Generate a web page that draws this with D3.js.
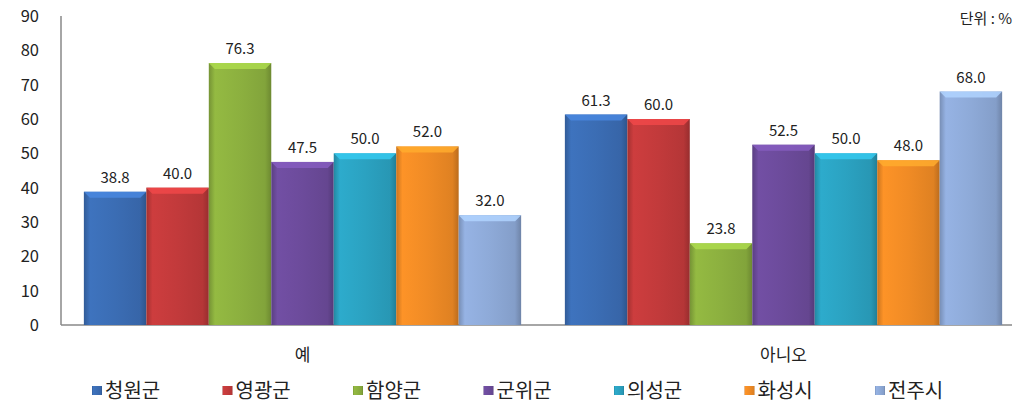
<!DOCTYPE html>
<html>
<head>
<meta charset="utf-8">
<script src="https://cdn.jsdelivr.net/npm/d3@7"></script>
<style>
  body { margin: 0; background: #fff; }
  text { font-family: "Noto Sans CJK KR", "Noto Sans", sans-serif; }
</style>
</head>
<body>
<div id="chart"></div>
<script>
// data
const groups = ["예", "아니오"];
const regions = ["청원군", "영광군", "함양군", "군위군", "의성군", "화성시", "전주시"];
const yesValues = [38.8, 40.0, 76.3, 47.5, 50.0, 52.0, 32.0];
const noValues = [61.3, 60.0, 23.8, 52.5, 50.0, 48.0, 68.0];
const yTicks = [0, 10, 20, 30, 40, 50, 60, 70, 80, 90];
const colors = ["#3b6db4", "#c23a3b", "#8cb03f", "#6c4b9b", "#2ba2c1", "#f08b25", "#8eaad8"];

const width = 1024, height = 410;
const margin = { top: 16, left: 62, right: 0, bottom: 85 };
const baseY = height - margin.bottom;

const svg = d3.select("#chart").append("svg")
  .attr("width", width)
  .attr("height", height);

const defs = svg.append("defs");
colors.forEach((c, i) => {
  const g = defs.append("linearGradient")
    .attr("id", "grad" + i)
    .attr("x1", "0%").attr("x2", "100%").attr("y1", "0%").attr("y2", "0%");
  g.append("stop").attr("offset", "0%").attr("stop-color", d3.color(c).darker(0.5));
  g.append("stop").attr("offset", "10%").attr("stop-color", d3.color(c).brighter(0.15));
  g.append("stop").attr("offset", "50%").attr("stop-color", c);
  g.append("stop").attr("offset", "90%").attr("stop-color", d3.color(c).darker(0.2));
  g.append("stop").attr("offset", "100%").attr("stop-color", d3.color(c).darker(0.7));
});

const x0 = d3.scaleBand()
  .domain(groups)
  .range([margin.left, width - margin.right])
  .paddingInner(0)
  .paddingOuter(0);

const x1 = d3.scaleBand()
  .domain(regions)
  .range([0, x0.bandwidth()])
  .paddingOuter(0.35)
  .paddingInner(0);

const y = d3.scaleLinear()
  .domain([0, 90])
  .range([baseY, margin.top]);

// y axis labels
svg.append("g")
  .selectAll("text")
  .data(yTicks)
  .join("text")
  .attr("x", 39)
  .attr("y", d => y(d) + 6)
  .attr("text-anchor", "end")
  .attr("font-size", 16.5)
  .attr("fill", "#222")
  .text(d => d);

// axis lines
svg.append("line")
  .attr("x1", margin.left - 1).attr("x2", margin.left - 1)
  .attr("y1", margin.top).attr("y2", baseY)
  .attr("stroke", "#888").attr("stroke-width", 1.5);

svg.append("line")
  .attr("x1", margin.left - 1).attr("x2", 1012)
  .attr("y1", baseY).attr("y2", baseY)
  .attr("stroke", "#888").attr("stroke-width", 1.5);

const rows = [yesValues, noValues];

groups.forEach((gName, gi) => {
  const g = svg.append("g").attr("transform", `translate(${x0(gName)},0)`);
  const data = regions.map((r, i) => ({ region: r, value: rows[gi][i], i }));

  const bars = g.selectAll("g.bar")
    .data(data)
    .join("g")
    .attr("class", "bar");

  bars.append("rect")
    .attr("x", d => x1(d.region))
    .attr("y", d => y(d.value))
    .attr("width", x1.bandwidth())
    .attr("height", d => baseY - y(d.value))
    .attr("fill", d => `url(#grad${d.i})`);

  // top bevel
  bars.append("path")
    .attr("d", d => {
      const xl = x1(d.region), xr = xl + x1.bandwidth(), yt = y(d.value);
      return `M${xl},${yt} L${xr},${yt} L${xr - 6},${yt + 6} L${xl + 6},${yt + 6} Z`;
    })
    .attr("fill", d => d3.color(colors[d.i]).brighter(0.6))
    .attr("opacity", 0.85);

  bars.append("text")
    .attr("x", d => x1(d.region) + x1.bandwidth() / 2)
    .attr("y", d => y(d.value) - 9)
    .attr("text-anchor", "middle")
    .attr("font-size", 15)
    .attr("fill", "#222")
    .text(d => d.value.toFixed(1));

  svg.append("text")
    .attr("x", x0(gName) + x0.bandwidth() / 2)
    .attr("y", 361)
    .attr("text-anchor", "middle")
    .attr("font-size", 17)
    .attr("fill", "#222")
    .text(gName);
});

// unit label
svg.append("text")
  .attr("x", 1012)
  .attr("y", 24)
  .attr("text-anchor", "end")
  .attr("font-size", 15)
  .attr("fill", "#222")
  .text("단위 : %");

// legend
const legend = svg.append("g");
const legendItems = legend.selectAll("g")
  .data(regions)
  .join("g")
  .attr("transform", (d, i) => `translate(${92 + i * 130.5},0)`);

legendItems.append("rect")
  .attr("x", 0).attr("y", 386)
  .attr("width", 10).attr("height", 9)
  .attr("fill", (d, i) => `url(#grad${i})`);

legendItems.append("text")
  .attr("x", 13)
  .attr("y", 398)
  .attr("font-size", 20)
  .attr("fill", "#222")
  .text(d => d);
</script>
</body>
</html>
